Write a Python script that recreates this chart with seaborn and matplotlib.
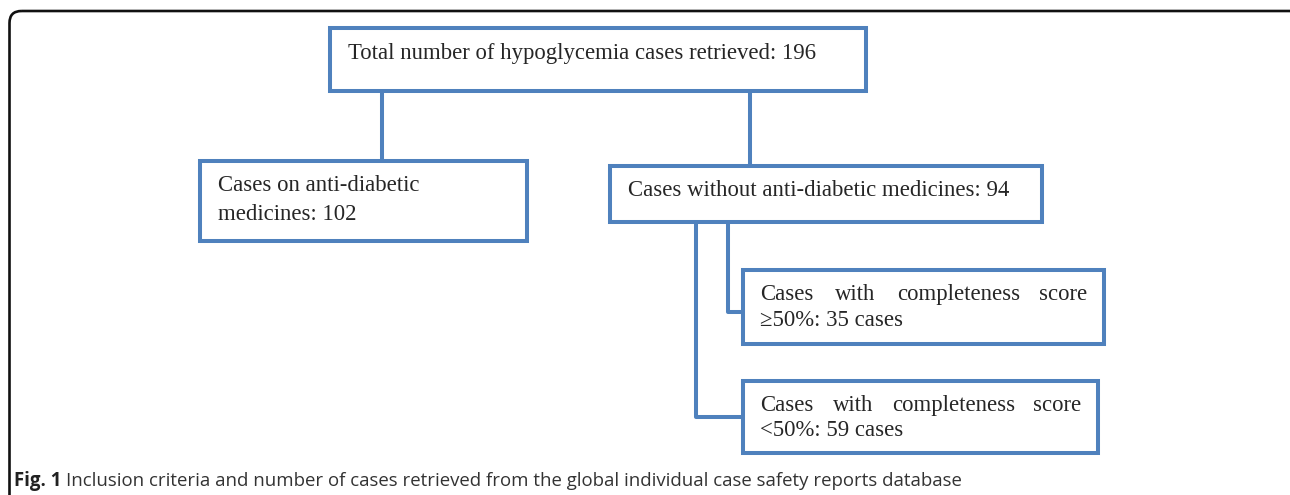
import matplotlib
matplotlib.use("Agg")
import matplotlib.pyplot as plt
from matplotlib.patches import FancyBboxPatch, Rectangle
import seaborn as sns

# Flowchart content
total_label = "Total number of hypoglycemia cases retrieved"
total_cases = 196
group_labels = ["Cases on anti-diabetic\nmedicines", "Cases without anti-diabetic medicines"]
group_cases = [102, 94]
score_labels = ["\u226550%", "<50%"]
score_cases = [35, 59]
caption_bold = "Fig. 1"
caption_text = "Inclusion criteria and number of cases retrieved from the global individual case safety reports database"

# layout in pixel coords (x0, y0, x1, y1), y grows downwards
boxes = {
    "total": (330, 28, 866, 91),
    "on": (200, 161, 527, 241),
    "without": (610, 166, 1042, 222),
    "hi": (743, 270, 1104, 344),
    "lo": (743, 381, 1098, 453),
}
connectors = [
    ([382, 382], [91, 161]),
    ([750, 750], [91, 166]),
    ([728, 728, 743], [222, 312, 312]),
    ([696, 696, 743], [222, 417, 417]),
]

BLUE = "#4f81bd"
SERIF = "Liberation Serif"
FS = 16.4

sns.set_theme(style="white")
plt.rcParams["font.family"] = ["DejaVu Sans"]

fig = plt.figure(figsize=(12.9, 4.95), dpi=100)
ax = fig.add_axes([0, 0, 1, 1])
ax.set_xlim(0, 1290)
ax.set_ylim(495, 0)
ax.axis("off")

# outer frame (runs off the right and bottom edges)
frame = FancyBboxPatch((9.5, 11), 1292, 540, boxstyle="round,pad=0,rounding_size=12",
                       fill=False, ec="#111111", lw=1.9, clip_on=True)
ax.add_patch(frame)

# connectors
for xs, ys in connectors:
    sns.lineplot(x=xs, y=ys, sort=False, estimator=None, color=BLUE, lw=2.9, ax=ax)

for key, (x0, y0, x1, y1) in boxes.items():
    ax.add_patch(Rectangle((x0, y0), x1 - x0, y1 - y0, fill=True, fc="white",
                           ec=BLUE, lw=2.9, zorder=3))

# box texts
ax.text(348, 53, f"{total_label}: {total_cases}", fontsize=FS, family=SERIF,
        va="center", ha="left", zorder=4)
ax.text(218, 200, f"{group_labels[0]}: {group_cases[0]}", fontsize=FS, family=SERIF,
        va="center", ha="left", linespacing=1.5, zorder=4)
ax.text(628, 191, f"{group_labels[1]}: {group_cases[1]}", fontsize=FS, family=SERIF,
        va="center", ha="left", zorder=4)

# justified first lines (baseline aligned)
word_pos = [[760, 835, 897, 1087], [760, 833, 892, 1081]]
line1_y = [300, 411]
line2_y = [320, 431]
words = ["Cases", "with", "completeness", "score"]
for i in range(2):
    for j, w in enumerate(words):
        ax.text(word_pos[i][j], line1_y[i], w, fontsize=FS, family=SERIF,
                va="baseline", ha="right" if j == 3 else "left", zorder=4)
    ax.text(760, line2_y[i], f"{score_labels[i]}: {score_cases[i]} cases", fontsize=FS,
            family=SERIF, va="center", ha="left", zorder=4)

# caption
t = ax.text(14, 481, caption_bold, fontsize=13.4, family="Open Sans", weight="bold",
            va="center", ha="left", color="#222222")
fig.canvas.draw()
bb = t.get_window_extent()
ax.text(bb.x1 + 5, 481, caption_text, fontsize=13.4, family="Open Sans",
        va="center", ha="left", color="#333333")

fig.savefig("out.png", dpi=100)
